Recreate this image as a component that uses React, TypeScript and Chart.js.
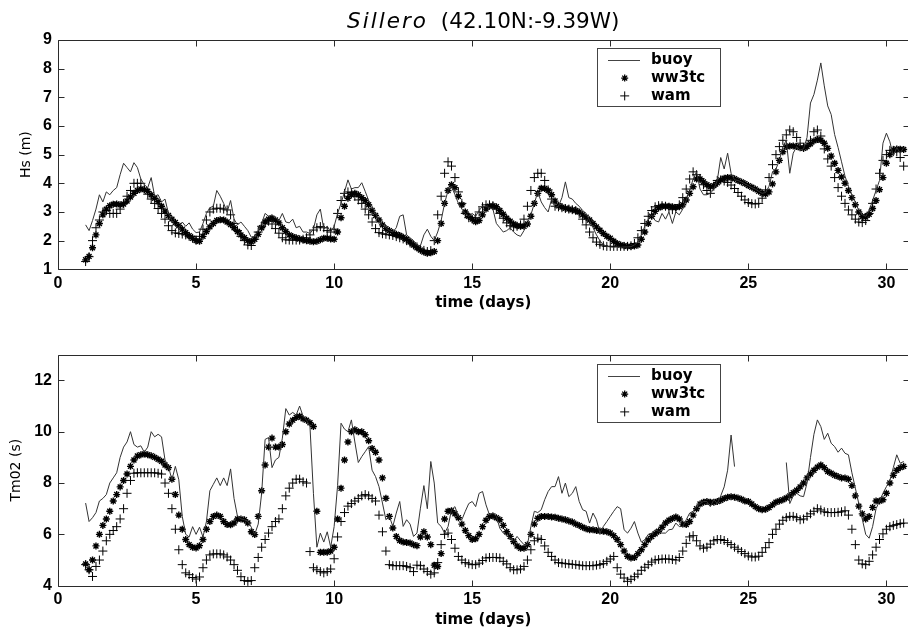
import React, { useEffect, useRef } from 'react';
import { Chart, registerables } from 'chart.js';

Chart.register(...registerables);

// ---------------- data ----------------
const START_DAY = 1;
const STEP_DAYS = 0.125; // 3-hourly samples

const X_TICKS = [0, 5, 10, 15, 20, 25, 30];
const HS_TICKS = [1, 2, 3, 4, 5, 6, 7, 8, 9];
const TM_TICKS = [4, 6, 8, 10, 12];
const LEGEND_LABELS = ['buoy', 'ww3tc', 'wam'];
const TITLE_NAME = 'Sillero';
const TITLE_COORDS = '(42.10N:-9.39W)';
const X_LABEL = 'time (days)';
const HS_LABEL = 'Hs (m)';
const TM_LABEL = 'Tm02 (s)';

const hsBuoy = [
  2.55, 2.35, 2.7, 3.1, 3.6, 3.35, 3.7, 3.6,
  3.75, 3.85, 4.3, 4.7, 4.55, 4.4, 4.72, 4.55,
  4.15, 3.95, 3.85, 4.2, 3.55, 3.6, 3.35, 3.45,
  2.95, 2.7, 2.5, 2.45, 2.65, 2.5, 2.62, 2.4,
  2.28, 2.3, 2.6, 2.95, 3.15, 3.2, 3.75, 3.55,
  3.3, 3.0, 3.4, 2.75, 2.55, 2.65, 2.5, 2.35,
  2.12, 2.15, 2.35, 2.6, 2.95, 2.85, 2.9, 2.8,
  2.7, 2.95, 2.65, 2.62, 2.75, 2.45, 2.5, 2.3,
  2.3, 2.25, 2.4, 2.9, 3.1, 2.4, 2.5, 2.3,
  2.5, 2.95, 3.3, 3.7, 4.12, 3.8, 3.85, 3.85,
  4.02, 3.72, 3.4, 3.2, 2.95, 2.7, 2.55, 2.45,
  2.35, 2.3, 2.45, 2.85, 2.9, 2.2, 2.1, 2.0,
  1.85, 1.82, 2.2, 2.4, 2.15, 2.0, 2.3, 2.7,
  3.3, 3.75, 3.9, 3.6, 3.3, 3.1, 2.95, 2.85,
  2.95, 2.85, 3.05, 3.2, 3.2, 3.15, 3.1, 2.6,
  2.45, 2.3, 2.35, 2.45, 2.3, 2.2, 2.15, 2.35,
  2.6, 2.9, 3.3, 3.7, 3.35, 3.15, 3.0, 3.45,
  3.15, 3.2, 3.5, 4.05, 3.5, 3.45, 3.3, 3.2,
  3.05, 2.95, 2.7, 2.45, 2.2, 2.0, 1.85, 1.8,
  1.78, 1.77, 1.78, 1.77, 1.78, 1.78, 1.79, 1.85,
  1.95, 2.2, 2.5, 2.75, 2.9, 2.7, 2.65, 2.95,
  2.75, 3.0, 2.6, 3.0, 2.9, 3.1, 3.4, 3.75,
  4.15, 4.4, 3.8, 3.6, 3.6, 3.65, 3.8, 4.1,
  4.9, 4.5, 5.05, 4.35, 4.12, 4.1, 4.05, 3.98,
  3.92, 3.85, 3.8, 3.72, 3.65, 3.68, 3.9, 4.4,
  4.5, 4.8, 5.28, 5.5, 4.35, 5.05, 5.28, 5.16,
  5.2, 5.6, 6.8, 7.1, 7.6, 8.2, 7.4, 6.7,
  6.4, 5.7, 5.25, 4.75, 4.25, 3.9, 3.6, 3.35,
  3.05, 2.9, 2.85, 3.05, 3.4, 3.75, 4.1, 5.4,
  5.75, 5.45, 4.95, 5.25, 5.05, 5.25,
];

const hsWw3tc = [
  1.33, 1.45, 1.75, 2.2, 2.6, 2.9, 3.1, 3.22,
  3.27, 3.28, 3.25, 3.28, 3.38, 3.52, 3.65, 3.75,
  3.8, 3.78, 3.72, 3.6, 3.48, 3.36, 3.2, 3.03,
  2.88, 2.75, 2.63, 2.52, 2.4, 2.28, 2.17, 2.08,
  2.0, 1.98, 2.15, 2.32, 2.48, 2.6, 2.7, 2.73,
  2.72, 2.65, 2.56, 2.45, 2.32, 2.2, 2.1, 2.0,
  1.96, 2.05, 2.22, 2.45, 2.65, 2.75, 2.78, 2.72,
  2.62, 2.45, 2.32, 2.2, 2.14, 2.1, 2.06, 2.03,
  2.0, 1.98, 1.96, 1.98, 2.03, 2.08, 2.08, 2.06,
  2.05, 2.3, 2.8, 3.2, 3.48, 3.6, 3.65, 3.6,
  3.5, 3.4, 3.25, 3.05, 2.88, 2.72, 2.55, 2.42,
  2.35, 2.28, 2.22, 2.18, 2.12, 2.05, 1.95, 1.85,
  1.75, 1.67, 1.6, 1.56, 1.58, 1.62, 2.0, 2.6,
  3.3, 3.75, 3.95, 3.85, 3.55, 3.25, 3.0, 2.85,
  2.75, 2.66, 2.7, 2.9, 3.1, 3.2, 3.22, 3.18,
  3.05, 2.92, 2.78, 2.68, 2.58, 2.52, 2.5, 2.5,
  2.58, 2.85, 3.3, 3.65, 3.83, 3.82, 3.75, 3.6,
  3.38, 3.22, 3.17, 3.13, 3.1, 3.08, 3.05, 3.0,
  2.9, 2.82, 2.72, 2.6, 2.48, 2.36, 2.25, 2.15,
  2.08, 1.98, 1.9, 1.85, 1.82, 1.8, 1.8, 1.81,
  1.85, 2.05, 2.3, 2.6, 2.85, 3.02, 3.15, 3.2,
  3.2, 3.2, 3.18, 3.16, 3.18, 3.25, 3.42, 3.65,
  3.88, 4.15, 4.15, 4.05, 3.95, 3.88, 3.92, 4.02,
  4.12, 4.18, 4.2, 4.2, 4.16, 4.1, 4.05, 3.99,
  3.92, 3.86, 3.8, 3.72, 3.65, 3.63, 3.7, 3.98,
  4.4, 4.8, 5.1, 5.28, 5.3, 5.3, 5.28, 5.24,
  5.22, 5.28, 5.38, 5.48, 5.53, 5.5, 5.4, 5.22,
  4.95, 4.7, 4.45, 4.22, 4.0, 3.75, 3.5, 3.25,
  3.0, 2.84, 2.82, 2.92, 3.12, 3.4, 3.78, 4.2,
  4.7, 5.0, 5.16, 5.2, 5.19, 5.18,
];

const hsWam = [
  1.27, 1.44, 2.0, 2.45, 2.72, 3.0, 3.05, 2.95,
  2.95, 2.95, 3.1, 3.3, 3.55, 3.75, 4.0, 4.0,
  4.0, 3.8, 3.62, 3.45, 3.3, 3.12, 2.95, 2.75,
  2.52, 2.35, 2.27, 2.25, 2.23, 2.2, 2.15, 2.08,
  2.02, 2.15, 2.4, 2.72, 3.0, 3.1, 3.13, 3.13,
  3.1, 3.07, 2.9, 2.6, 2.35, 2.15, 2.0, 1.85,
  1.83, 2.05, 2.3, 2.5, 2.62, 2.68, 2.58, 2.42,
  2.26, 2.1, 2.03, 2.02, 2.02, 2.02, 2.02, 2.05,
  2.1, 2.2, 2.37, 2.45, 2.49, 2.45, 2.35, 2.3,
  2.4, 2.95, 3.4, 3.65, 3.7, 3.68, 3.55, 3.42,
  3.3, 3.1, 2.9, 2.65, 2.42, 2.28, 2.24, 2.22,
  2.2, 2.18, 2.14, 2.1, 2.06, 2.0, 1.92, 1.85,
  1.78, 1.7, 1.66, 1.62, 1.65, 2.0, 2.9, 3.55,
  4.35, 4.75, 4.6, 4.2, 3.7, 3.3, 2.95, 2.8,
  2.75, 2.8, 3.0, 3.18, 3.25, 3.25, 3.22, 3.1,
  2.95, 2.78, 2.62, 2.52, 2.48, 2.5, 2.55, 2.75,
  3.2, 3.75, 4.2, 4.35, 4.35, 4.1, 3.77, 3.45,
  3.2, 3.18, 3.15, 3.12, 3.1, 3.08, 3.05, 2.95,
  2.75, 2.55, 2.3, 2.1, 1.95, 1.87, 1.82, 1.8,
  1.8, 1.8, 1.8, 1.8, 1.8, 1.8, 1.82, 1.9,
  2.1, 2.35, 2.6, 2.85, 3.05, 3.18, 3.22, 3.22,
  3.2, 3.15, 3.08, 3.12, 3.25, 3.5, 3.8, 4.15,
  4.4, 4.3, 4.17, 3.95, 3.75, 3.65, 3.9, 4.1,
  4.12, 4.08, 4.03, 3.94, 3.82, 3.68, 3.55, 3.42,
  3.33, 3.29, 3.28, 3.3, 3.48, 3.77, 4.2, 4.65,
  5.0, 5.28, 5.5, 5.69, 5.86, 5.8, 5.6, 5.4,
  5.25, 5.3, 5.5, 5.8, 5.86, 5.65, 5.2, 4.85,
  4.6, 4.2, 3.85, 3.55, 3.3, 3.07, 2.9, 2.75,
  2.65, 2.63, 2.7, 2.95, 3.3, 3.8, 4.35, 4.8,
  5.0, 5.15, 5.15, 5.1, 4.9, 4.6,
];

const tmBuoy = [
  7.22, 6.5, 6.65, 6.85, 7.3, 7.4, 7.55, 8.0,
  8.2, 8.4, 9.0, 9.4, 9.6, 10.0, 9.5, 9.4,
  9.45, 9.2, 9.4, 10.0, 9.8, 9.9, 9.8, 8.9,
  8.64, 8.13, 8.65, 8.13, 6.7, 6.0, 5.9, 6.3,
  6.0, 6.28, 5.9, 6.5, 7.7, 7.95, 8.2, 7.9,
  8.2, 7.9, 8.55, 7.4, 6.7, 6.6, 6.57, 6.5,
  6.28, 6.0, 6.4, 7.6, 9.7, 9.77, 8.6, 8.9,
  9.0, 9.75, 10.9, 10.65, 10.75, 10.65, 11.0, 10.6,
  10.45, 10.2, 7.6, 5.5, 6.05, 5.7, 6.1, 5.5,
  6.3, 7.9, 10.33, 10.1, 10.0, 10.46, 9.6, 8.8,
  9.03, 9.22, 9.42, 8.5, 8.25, 7.86, 7.22, 6.57,
  6.7, 6.31, 6.83, 7.28, 6.31, 6.57, 6.4, 5.92,
  6.05, 7.02, 7.9, 7.0, 8.84, 8.0, 6.44, 6.31,
  6.05, 6.3, 6.96, 7.08, 6.7, 6.57, 6.9, 7.2,
  7.28, 7.08, 7.6, 7.67, 7.15, 6.76, 6.83, 6.7,
  6.24, 6.05, 5.95, 5.85, 5.72, 5.92, 5.75, 5.6,
  5.6, 6.3, 6.9, 6.85, 6.96, 7.35, 7.67, 7.86,
  7.86, 8.25, 7.6, 8.0, 7.47, 7.6, 7.86, 7.28,
  6.96, 6.9, 6.44, 6.83, 6.57, 6.05, 6.31, 6.5,
  6.7, 6.9, 7.08, 7.0, 6.18, 6.05, 6.24, 6.5,
  6.05, 5.7, 5.79, 6.0, 6.05, 6.18, 6.12, 6.05,
  6.05, 6.18, 6.2, 6.44, 6.3, 6.31, 6.57, 6.83,
  6.9, 7.08, 7.2, 7.28, 7.28, 7.08, 7.35, 7.2,
  7.5, 7.85, 8.5, 9.87, 8.64, null, null, null,
  null, null, null, null, null, null, null, null,
  null, null, null, 8.8, 7.2, 7.5, 7.6, 7.5,
  7.47, 8.0, 9.0, 9.9, 10.46, 10.2, 9.7, 9.94,
  9.55, 9.42, 9.2, 9.36, 9.16, 9.1, 8.4, 7.8,
  7.2, 6.6, 6.0, 5.85, 6.3, 7.0, 7.3, 7.6,
  7.86, 8.1, 8.6, 9.1, 8.77, 8.84,
];

const tmWw3tc = [
  4.85, 4.62, 5.0, 5.55, 6.0, 6.35, 6.6, 6.9,
  7.3, 7.55, 7.85, 8.1, 8.35, 8.65, 8.9, 9.05,
  9.1, 9.13, 9.1, 9.06, 9.0, 8.93, 8.85, 8.7,
  8.6, 8.15, 7.55, 6.75, 6.2, 5.8, 5.6, 5.5,
  5.47, 5.56, 5.8, 6.2, 6.5, 6.7, 6.75, 6.7,
  6.5, 6.38, 6.37, 6.44, 6.6, 6.6, 6.57, 6.44,
  6.1, 5.99, 6.7, 7.7, 8.7, 9.4, 9.75, 9.4,
  9.4, 9.5, 10.0, 10.3, 10.45, 10.55, 10.6, 10.5,
  10.45, 10.35, 10.2, 6.9, 5.3, 5.3, 5.3, 5.35,
  5.5, 6.6, 7.8, 8.9, 9.6, 10.0, 10.08, 10.0,
  10.0, 9.88, 9.65, 9.35, 9.2, 8.9, 8.2, 7.41,
  6.7, 6.25, 5.92, 5.76, 5.7, 5.68, 5.66, 5.6,
  5.56, 5.9, 6.1, 5.9, 5.6, 4.8, 4.75, 5.25,
  6.6, 6.9, 6.92, 6.8, 6.65, 6.4, 6.15, 5.95,
  5.8, 5.83, 6.0, 6.3, 6.55, 6.7, 6.72, 6.65,
  6.57, 6.35, 6.1, 5.92, 5.72, 5.55, 5.46, 5.46,
  5.6, 6.0, 6.4, 6.63, 6.7, 6.7, 6.7, 6.68,
  6.67, 6.63, 6.6, 6.57, 6.52, 6.48, 6.4, 6.35,
  6.28, 6.22, 6.18, 6.18, 6.15, 6.13, 6.12, 6.1,
  6.05, 5.95, 5.8, 5.6, 5.35, 5.15, 5.08, 5.1,
  5.25, 5.4, 5.6, 5.78, 5.92, 6.02, 6.12, 6.28,
  6.44, 6.55, 6.62, 6.68, 6.6, 6.4, 6.38, 6.5,
  6.75, 7.0, 7.18, 7.25, 7.28, 7.25, 7.25, 7.28,
  7.33, 7.4, 7.45, 7.47, 7.45, 7.42, 7.37, 7.3,
  7.28, 7.18, 7.08, 7.0, 6.96, 6.98, 7.05, 7.15,
  7.25, 7.3, 7.35, 7.42, 7.5, 7.62, 7.72, 7.85,
  8.0, 8.2, 8.35, 8.5, 8.62, 8.7, 8.6, 8.45,
  8.38, 8.3, 8.25, 8.2, 8.2, 8.15, 7.9, 7.5,
  7.1, 6.8, 6.6, 6.7, 7.05, 7.3, 7.3, 7.35,
  7.6, 8.0, 8.3, 8.5, 8.6, 8.65,
];

const tmWam = [
  4.82, 4.62, 4.36, 4.75, 5.0, 5.35, 5.75, 6.0,
  6.15, 6.3, 6.6, 7.0, 7.6, 8.1, 8.38, 8.4,
  8.4, 8.4, 8.4, 8.4, 8.4, 8.38, 8.35, 8.0,
  7.6, 7.0, 6.2, 5.4, 4.82, 4.5, 4.43, 4.32,
  4.26, 4.34, 4.7, 5.0, 5.2, 5.24, 5.24, 5.24,
  5.2, 5.12, 5.0, 4.82, 4.6, 4.35, 4.2, 4.17,
  4.2, 4.7, 5.1, 5.5, 5.8, 6.05, 6.3, 6.5,
  6.6, 7.0, 7.5, 7.8, 8.0, 8.15, 8.15, 8.05,
  8.0, 5.33, 4.7, 4.62, 4.55, 4.5, 4.55, 4.65,
  5.05, 5.9, 6.5, 6.85, 7.1, 7.2, 7.3, 7.4,
  7.5, 7.55, 7.5, 7.4, 7.3, 6.75, 6.1, 5.35,
  4.82, 4.78, 4.78, 4.78, 4.78, 4.75, 4.7, 4.55,
  4.8, 4.78, 4.65, 4.55, 4.45, 4.5, 4.9, 5.6,
  6.0, 6.05, 5.8, 5.46, 5.14, 5.0, 4.9, 4.85,
  4.82, 4.82, 4.88, 4.98, 5.08, 5.1, 5.1, 5.1,
  5.08, 4.95, 4.85, 4.7, 4.62, 4.62, 4.65, 4.75,
  5.0, 5.4, 5.75, 5.85, 5.8, 5.55, 5.3, 5.14,
  5.0, 4.9, 4.88, 4.86, 4.85, 4.83, 4.82, 4.8,
  4.78, 4.78, 4.78, 4.78, 4.8, 4.82, 4.86, 4.95,
  5.04, 5.14, 4.7, 4.45, 4.3, 4.17, 4.25, 4.35,
  4.45, 4.6, 4.72, 4.82, 4.92, 5.0, 5.02, 5.04,
  5.04, 5.04, 5.02, 5.0, 5.1, 5.35, 5.65, 5.9,
  5.95, 5.75, 5.55, 5.46, 5.5, 5.62, 5.75, 5.8,
  5.8, 5.76, 5.68, 5.6, 5.5, 5.42, 5.33, 5.25,
  5.16, 5.12, 5.12, 5.15, 5.3, 5.48, 5.68, 6.0,
  6.2, 6.4, 6.55, 6.65, 6.7, 6.7, 6.65, 6.57,
  6.6, 6.7, 6.8, 6.9, 7.0, 6.95, 6.88, 6.85,
  6.85, 6.85, 6.86, 6.88, 6.92, 6.75, 6.2, 5.6,
  5.0, 4.85, 4.82, 4.95, 5.2, 5.5, 5.8, 6.02,
  6.2, 6.3, 6.35, 6.38, 6.42, 6.44,
];

// ---------------- styling ----------------
const TEXT_FONT = '"DejaVu Sans", "Liberation Sans", sans-serif';
const TICK_FONT = '"Liberation Sans", Arial, sans-serif';
const CANVAS_W = 914;
const PLOT_LEFT = 58;
const PLOT_RIGHT = 911.2;
const X_MAX = 30.8;

Chart.defaults.font.family = TEXT_FONT;

function toPoints(vals: (number | null)[]) {
  return vals.map((v, i) => ({ x: START_DAY + i * STEP_DAYS, y: v }));
}

function drawStar(ctx: CanvasRenderingContext2D, x: number, y: number, r: number) {
  const d = r * Math.SQRT1_2;
  ctx.moveTo(x - r, y); ctx.lineTo(x + r, y);
  ctx.moveTo(x, y - r); ctx.lineTo(x, y + r);
  ctx.moveTo(x - d, y - d); ctx.lineTo(x + d, y + d);
  ctx.moveTo(x - d, y + d); ctx.lineTo(x + d, y - d);
}
function drawPlus(ctx: CanvasRenderingContext2D, x: number, y: number, r: number) {
  ctx.moveTo(x - r, y); ctx.lineTo(x + r, y);
  ctx.moveTo(x, y - r); ctx.lineTo(x, y + r);
}

const framePlugin = {
  id: 'frame',
  afterDraw(chart: any, _args: any, o: any) {
    const { ctx, chartArea: a } = chart;
    const xs = chart.scales.x;
    const ys = chart.scales.y;
    const px = (v: number) => Math.round(v) + 0.5;
    ctx.save();
    ctx.strokeStyle = '#2b2b2b';
    ctx.lineWidth = 1;
    const L = px(a.left), R = px(a.right), T = px(a.top), B = px(a.bottom);
    ctx.beginPath();
    ctx.rect(L, T, R - L, B - T);
    for (const v of o.xTicks) {
      const x = px(xs.getPixelForValue(v));
      ctx.moveTo(x, B); ctx.lineTo(x, B - o.tick);
      ctx.moveTo(x, T); ctx.lineTo(x, T + o.tick);
    }
    for (const v of o.yTicks) {
      const y = px(ys.getPixelForValue(v));
      ctx.moveTo(L, y); ctx.lineTo(L + o.tick, y);
      ctx.moveTo(R, y); ctx.lineTo(R - o.tick, y);
    }
    ctx.stroke();

    // legend box
    const bx = a.left + o.legendDx;
    const by = a.top + o.legendDy;
    ctx.fillStyle = '#fff';
    ctx.fillRect(bx, by, o.legendW, o.legendH);
    ctx.strokeStyle = '#444';
    ctx.strokeRect(px(bx), px(by), Math.round(o.legendW), Math.round(o.legendH));
    const rows = [by + 11.7, by + 29.8, by + 47.6];
    const mx = bx + 27.4;
    ctx.beginPath();
    ctx.strokeStyle = '#444';
    ctx.moveTo(bx + 10.7, px(rows[0])); ctx.lineTo(bx + 42.7, px(rows[0]));
    ctx.stroke();
    ctx.beginPath();
    ctx.strokeStyle = '#000';
    ctx.lineWidth = 1.3;
    drawStar(ctx, mx, rows[1], 3.5);
    ctx.stroke();
    ctx.beginPath();
    ctx.lineWidth = 1;
    drawPlus(ctx, mx, rows[2], 4.5);
    ctx.stroke();
    ctx.fillStyle = '#000';
    ctx.font = `bold 15px ${TEXT_FONT}`;
    ctx.textBaseline = 'middle';
    ctx.textAlign = 'left';
    LEGEND_LABELS.forEach((t, i) => ctx.fillText(t, bx + 53.7, rows[i] + 0.5));

    if (o.title) {
      const fItal = `italic 21.5px ${TEXT_FONT}`;
      const fReg = `21.5px ${TEXT_FONT}`;
      const c: any = ctx;
      ctx.font = fItal;
      c.letterSpacing = '2px';
      const w1 = ctx.measureText(TITLE_NAME).width;
      c.letterSpacing = '0px';
      ctx.font = fReg;
      const gap = 13;
      const w2 = ctx.measureText(TITLE_COORDS).width;
      const cx = (a.left + a.right) / 2;
      const x0 = cx - (w1 + gap + w2) / 2;
      ctx.textBaseline = 'alphabetic';
      ctx.font = fItal;
      c.letterSpacing = '2px';
      ctx.fillText(TITLE_NAME, x0, 27.5);
      c.letterSpacing = '0px';
      ctx.font = fReg;
      ctx.fillText(TITLE_COORDS, x0 + w1 + gap, 27.5);
    }
    ctx.restore();
  },
};

type PanelProps = {
  top: number;
  height: number;
  plotTop: number;
  plotBottom: number;
  yMin: number;
  yMax: number;
  yTicks: number[];
  yLabel: string;
  yTitlePad: number;
  xTitlePad: number;
  legendDy: number;
  title: boolean;
  buoy: (number | null)[];
  ww3: (number | null)[];
  wam: (number | null)[];
};

function Panel(p: PanelProps) {
  const ref = useRef<HTMLCanvasElement | null>(null);
  useEffect(() => {
    const canvas = ref.current;
    if (!canvas) return;
    const chart = new Chart(canvas, {
      type: 'line',
      data: {
        datasets: [
          {
            label: LEGEND_LABELS[0],
            data: toPoints(p.buoy),
            borderColor: '#333',
            borderWidth: 1,
            pointRadius: 0,
            fill: false,
            tension: 0,
            spanGaps: false,
          },
          {
            label: LEGEND_LABELS[1],
            data: toPoints(p.ww3),
            showLine: false,
            pointStyle: 'star',
            pointRadius: 3.5,
            pointBorderWidth: 1.4,
            borderColor: '#000',
            backgroundColor: '#000',
            clip: false,
          },
          {
            label: LEGEND_LABELS[2],
            data: toPoints(p.wam),
            showLine: false,
            pointStyle: 'cross',
            pointRadius: 4.5,
            pointBorderWidth: 1,
            borderColor: '#000',
            backgroundColor: '#000',
            clip: false,
          },
        ] as any,
      },
      options: {
        animation: false,
        responsive: false,
        devicePixelRatio: 1,
        events: [],
        layout: { padding: { top: p.plotTop, left: 0, right: CANVAS_W - PLOT_RIGHT, bottom: 0 } },
        plugins: {
          legend: { display: false },
          tooltip: { enabled: false },
          title: { display: false },
          frame: {
            xTicks: X_TICKS,
            yTicks: p.yTicks,
            tick: 6,
            legendDx: 539.3,
            legendDy: p.legendDy,
            legendW: 123.4,
            legendH: 58.4,
            title: p.title,
          },
        } as any,
        scales: {
          x: {
            type: 'linear',
            min: 0,
            max: X_MAX,
            afterBuildTicks: (s: any) => { s.ticks = X_TICKS.map((v) => ({ value: v })); },
            afterFit: (s: any) => { s.height = p.height - p.plotBottom; },
            grid: { display: false, drawTicks: false },
            border: { display: false },
            ticks: {
              autoSkip: false,
              maxRotation: 0,
              padding: 4.5,
              color: '#000',
              font: { family: TICK_FONT, size: 16, weight: 'bold' },
            },
            title: {
              display: true,
              text: X_LABEL,
              color: '#000',
              font: { family: TEXT_FONT, size: 15, weight: 'bold' },
              padding: { top: 0, bottom: p.xTitlePad },
            },
          },
          y: {
            type: 'linear',
            min: p.yMin,
            max: p.yMax,
            afterBuildTicks: (s: any) => { s.ticks = p.yTicks.map((v) => ({ value: v })); },
            afterFit: (s: any) => { s.width = PLOT_LEFT; },
            grid: { display: false, drawTicks: false },
            border: { display: false },
            ticks: {
              padding: 6,
              color: '#000',
              font: { family: TICK_FONT, size: 16, weight: 'bold' },
            },
            title: {
              display: true,
              text: p.yLabel,
              color: '#000',
              font: { family: TEXT_FONT, size: 14 },
              padding: { top: p.yTitlePad, bottom: 0 },
            },
          },
        } as any,
      },
      plugins: [framePlugin],
    });
    return () => chart.destroy();
  }, []);
  return (
    <canvas
      ref={ref}
      width={CANVAS_W}
      height={p.height}
      style={{ position: 'absolute', left: 0, top: p.top, width: CANVAS_W, height: p.height, display: 'block' }}
    />
  );
}

export default function App() {
  return (
    <div
      style={{
        position: 'fixed',
        left: 0,
        top: 0,
        width: 908,
        height: 633,
        overflow: 'hidden',
        background: '#fff',
      }}
    >
      <Panel
        top={0}
        height={316}
        plotTop={40}
        plotBottom={269.3}
        yMin={1}
        yMax={9}
        yTicks={HS_TICKS}
        yLabel={HS_LABEL}
        yTitlePad={18.3}
        xTitlePad={3.5}
        legendDy={8.3}
        title={true}
        buoy={hsBuoy}
        ww3={hsWw3tc}
        wam={hsWam}
      />
      <Panel
        top={316}
        height={317}
        plotTop={38.7}
        plotBottom={269.7}
        yMin={4}
        yMax={13}
        yTicks={TM_TICKS}
        yLabel={TM_LABEL}
        yTitlePad={8.3}
        xTitlePad={3.7}
        legendDy={9.6}
        title={false}
        buoy={tmBuoy}
        ww3={tmWw3tc}
        wam={tmWam}
      />
    </div>
  );
}
